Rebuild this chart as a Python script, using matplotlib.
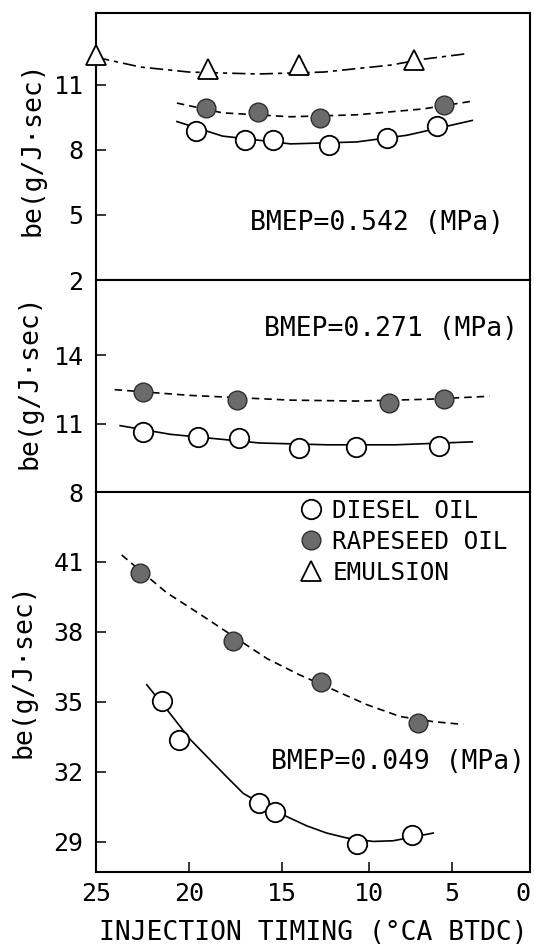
import numpy as np
import matplotlib
matplotlib.use('Agg')
import matplotlib.pyplot as plt

# ---- data (injection timing in deg CA BTDC, be in g/J.sec)
# BMEP = 0.542 MPa
top_diesel_x = [19.6, 17.0, 15.5, 12.3, 8.9, 5.9]
top_diesel_y = [8.85, 8.45, 8.45, 8.2, 8.55, 9.1]
top_diesel_fit_x = [20.65, 18.2, 14.5, 10.7, 7.7, 3.7]
top_diesel_fit_y = [9.3, 8.63, 8.27, 8.36, 8.67, 9.35]

top_rape_x = [19.1, 16.3, 12.8, 5.5]
top_rape_y = [9.93, 9.75, 9.48, 10.06]
top_rape_fit_x = [20.65, 18.2, 14.5, 10.7, 6.75, 3.6]
top_rape_fit_y = [10.15, 9.7, 9.52, 9.61, 9.88, 10.25]

top_emul_x = [25.0, 19.0, 14.0, 7.3]
top_emul_y = [12.35, 11.72, 11.9, 12.12]
top_emul_fit_x = [25.0, 22.6, 20.0, 16.3, 12.6, 8.7, 6.75, 4.0]
top_emul_fit_y = [12.26, 11.81, 11.58, 11.49, 11.58, 11.9, 12.17, 12.43]

# BMEP = 0.271 MPa
mid_diesel_x = [22.5, 19.5, 17.3, 14.0, 10.75, 5.8]
mid_diesel_y = [10.64, 10.4, 10.39, 9.94, 9.97, 10.01]
mid_diesel_fit_x = [23.7, 21.0, 16.2, 12.4, 8.4, 3.7]
mid_diesel_fit_y = [10.91, 10.53, 10.15, 10.07, 10.07, 10.2]

mid_rape_x = [22.5, 17.4, 8.8, 5.5]
mid_rape_y = [12.4, 12.05, 11.9, 12.07]
mid_rape_fit_x = [24.0, 20.0, 14.5, 10.7, 6.4, 2.6]
mid_rape_fit_y = [12.49, 12.24, 12.03, 11.99, 12.07, 12.2]

# BMEP = 0.049 MPa
bot_diesel_x = [21.47, 20.52, 16.22, 15.38, 10.71, 7.43]
bot_diesel_y = [35.03, 33.36, 30.67, 30.29, 28.91, 29.3]
bot_diesel_fit_x = [22.27, 21.11, 19.95, 19.05, 17.97, 17.08, 15.82, 14.73,
                    13.58, 12.43, 11.28, 9.74, 8.54, 6.13]
bot_diesel_fit_y = [35.73, 34.59, 33.4, 32.66, 31.78, 31.07, 30.5, 30.08,
                    29.68, 29.37, 29.16, 29.01, 29.04, 29.37]

bot_rape_x = [22.63, 17.65, 12.78, 7.03]
bot_rape_y = [40.52, 37.63, 35.87, 34.07]
bot_rape_fit_x = [23.62, 21.2, 19.41, 15.82, 13.97, 12.05, 10.13, 8.13, 6.13, 4.28]
bot_rape_fit_y = [41.3, 39.68, 38.76, 36.86, 36.15, 35.52, 34.88, 34.37, 34.15, 34.03]

timing_ticks = [0, 5, 10, 15, 20, 25]
top_yticks = [2, 5, 8, 11]
mid_yticks = [8, 11, 14]
bot_yticks = [29, 32, 35, 38, 41]

# the original axis is not evenly drawn, keep its tick spacing
timing_tick_px = [0, 78, 161, 248, 341, 434]


def timing_fwd(v):
    return np.interp(v, timing_ticks, timing_tick_px)


def timing_inv(p):
    return np.interp(p, timing_tick_px, timing_ticks)


plt.rcParams['font.family'] = ['DejaVu Sans Mono', 'DejaVu Sans']

W, H = 534, 952
fig = plt.figure(figsize=(W / 100, H / 100), dpi=100)


def rect(l, t, r, b):
    return [l / W, 1 - b / H, (r - l) / W, (b - t) / H]


ax_top = fig.add_axes(rect(96, 13, 530, 280))
ax_mid = fig.add_axes(rect(96, 280, 530, 492), sharex=ax_top)
ax_bot = fig.add_axes(rect(96, 492, 530, 872), sharex=ax_top)

ax_top.set_xscale('function', functions=(timing_fwd, timing_inv))
ax_top.set_xlim(25, 0)

diesel_kw = dict(linestyle='none', marker='o', ms=14, mfc='white', mec='black', mew=1.3, zorder=3)
rape_kw = dict(linestyle='none', marker='o', ms=13.5, mfc='#6b6b6b', mec='#2e2e2e', mew=1.0, zorder=3)
emul_kw = dict(linestyle='none', marker='^', ms=14, mfc='white', mec='black', mew=1.3, zorder=3, clip_on=False)
solid_kw = dict(color='black', lw=1.2, linestyle='-')
dash_kw = dict(color='black', lw=1.2, linestyle=(0, (4.5, 3)))
dashdot_kw = dict(color='black', lw=1.2, linestyle=(0, (8, 3, 2.5, 3)))

# top
ax_top.plot(top_emul_fit_x, top_emul_fit_y, **dashdot_kw)
ax_top.plot(top_rape_fit_x, top_rape_fit_y, **dash_kw)
ax_top.plot(top_diesel_fit_x, top_diesel_fit_y, **solid_kw)
h_emul, = ax_top.plot(top_emul_x, top_emul_y, **emul_kw)
ax_top.plot(top_rape_x, top_rape_y, **rape_kw)
ax_top.plot(top_diesel_x, top_diesel_y, **diesel_kw)

# middle
ax_mid.plot(mid_rape_fit_x, mid_rape_fit_y, **dash_kw)
ax_mid.plot(mid_diesel_fit_x, mid_diesel_fit_y, **solid_kw)
ax_mid.plot(mid_rape_x, mid_rape_y, **rape_kw)
ax_mid.plot(mid_diesel_x, mid_diesel_y, **diesel_kw)

# bottom
ax_bot.plot(bot_rape_fit_x, bot_rape_fit_y, **dash_kw)
ax_bot.plot(bot_diesel_fit_x, bot_diesel_fit_y, **solid_kw)
h_rape, = ax_bot.plot(bot_rape_x, bot_rape_y, **rape_kw)
h_diesel, = ax_bot.plot(bot_diesel_x, bot_diesel_y, **diesel_kw)

ax_top.set_ylim(2, 14.3)
ax_mid.set_ylim(8, 17.3)
ax_bot.set_ylim(27.7, 44.0)
ax_top.set_yticks(top_yticks)
ax_mid.set_yticks(mid_yticks)
ax_bot.set_yticks(bot_yticks)
ax_bot.set_xticks(timing_ticks)

for ax in (ax_top, ax_mid, ax_bot):
    for sp in ax.spines.values():
        sp.set_linewidth(1.5)
    ax.tick_params(axis='y', direction='in', length=7, width=1.1, labelsize=18, pad=9)
    ax.tick_params(axis='x', direction='in', length=7, width=1.1, labelsize=18, pad=7)
    ax.set_ylabel('be(g/J\u00b7sec)', fontsize=19, va='center')

for ax in (ax_top, ax_mid):
    ax.tick_params(axis='x', bottom=False, labelbottom=False)

# keep the "0" at the right edge inside the picture
fig.canvas.draw()
ax_bot.get_xticklabels()[0].set_ha('right')

ax_top.yaxis.set_label_coords(-0.147, 0.49)
ax_mid.yaxis.set_label_coords(-0.154, 0.52)
ax_bot.yaxis.set_label_coords(-0.168, 0.53)

ax_bot.set_xlabel('INJECTION TIMING (\u00b0CA BTDC)', fontsize=19, va='center')
ax_bot.xaxis.set_label_coords(0.5, -0.16)

ax_top.text(0.94, 0.213, 'BMEP=0.542 (MPa)', transform=ax_top.transAxes,
            ha='right', va='center', fontsize=19)
ax_mid.text(0.972, 0.77, 'BMEP=0.271 (MPa)', transform=ax_mid.transAxes,
            ha='right', va='center', fontsize=19)
ax_bot.text(0.988, 0.29, 'BMEP=0.049 (MPa)', transform=ax_bot.transAxes,
            ha='right', va='center', fontsize=19)

ax_bot.legend([h_diesel, h_rape, h_emul], ['DIESEL OIL', 'RAPESEED OIL', 'EMULSION'],
              loc='upper left', bbox_to_anchor=(0.467, 0.982), frameon=False,
              fontsize=17.5, handlelength=1.0, handletextpad=0.38,
              labelspacing=0.29, borderpad=0, borderaxespad=0)

fig.savefig('out.png', dpi=100)
